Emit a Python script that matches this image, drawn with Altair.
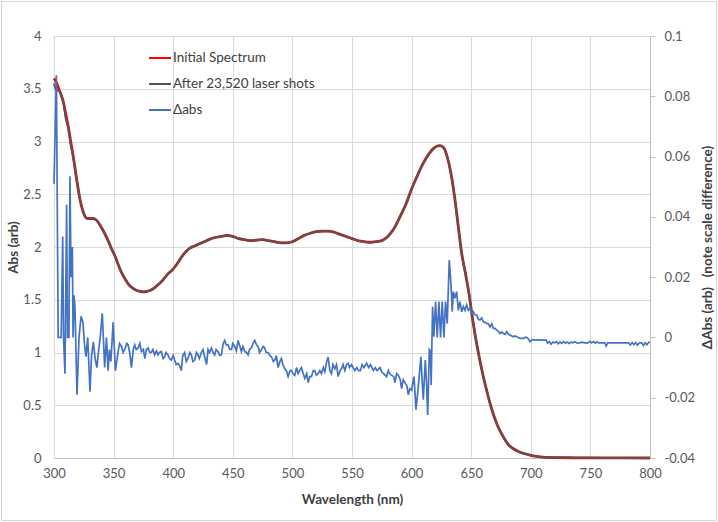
import altair as alt
import pandas as pd

# ---- absorbance spectra (left axis) ----
spec_nm = [300, 302, 304, 306, 308, 310, 312, 314, 316, 318,
           320, 322, 324, 326, 328, 330, 333, 336, 339, 342,
           345, 348, 351, 354, 357, 360, 363, 366, 369, 372,
           375, 378, 381, 384, 387, 390, 393, 396, 399, 402,
           405, 408, 411, 414, 418, 422, 426, 430, 435, 440,
           445, 450, 455, 460, 465, 470, 475, 480, 485, 490,
           495, 500, 505, 510, 515, 520, 525, 530, 535, 540,
           545, 550, 555, 560, 565, 570, 575, 580, 585, 590,
           595, 600, 605, 610, 615, 618, 621, 624, 627, 630,
           633, 636, 639, 642, 645, 648, 651, 654, 657, 660,
           663, 666, 669, 672, 675, 678, 681, 685, 690, 695,
           700, 705, 710, 720, 740, 760, 800]

initial_abs = [3.60, 3.56, 3.50, 3.44, 3.37, 3.25, 3.14, 3.00, 2.87, 2.72,
               2.57, 2.44, 2.35, 2.29, 2.27, 2.27, 2.27, 2.25, 2.20, 2.14,
               2.07, 1.99, 1.92, 1.83, 1.75, 1.69, 1.64, 1.61, 1.59, 1.58,
               1.575, 1.58, 1.59, 1.61, 1.64, 1.67, 1.71, 1.75, 1.78, 1.82,
               1.87, 1.92, 1.96, 1.99, 2.01, 2.03, 2.05, 2.07, 2.09, 2.10,
               2.11, 2.10, 2.08, 2.07, 2.06, 2.065, 2.07, 2.06, 2.05, 2.04,
               2.04, 2.05, 2.08, 2.11, 2.13, 2.145, 2.15, 2.15, 2.14, 2.12,
               2.10, 2.08, 2.06, 2.05, 2.045, 2.05, 2.06, 2.10, 2.17, 2.28,
               2.40, 2.55, 2.68, 2.80, 2.89, 2.93, 2.955, 2.96, 2.94, 2.85,
               2.70, 2.48, 2.21, 1.94, 1.76, 1.57, 1.33, 1.12, 0.94, 0.78,
               0.64, 0.51, 0.40, 0.31, 0.24, 0.18, 0.13, 0.09, 0.06, 0.04,
               0.025, 0.015, 0.008, 0.004, 0.002, 0.001, 0.0]

after_abs = [3.55, 3.48, 3.49, 3.44, 3.36, 3.21, 3.13, 2.97, 2.86, 2.71,
             2.57, 2.44, 2.35, 2.29, 2.27, 2.27, 2.27, 2.25, 2.20, 2.14,
             2.07, 1.99, 1.92, 1.83, 1.75, 1.69, 1.64, 1.61, 1.59, 1.58,
             1.575, 1.58, 1.59, 1.61, 1.64, 1.67, 1.71, 1.75, 1.78, 1.82,
             1.87, 1.92, 1.96, 1.99, 2.01, 2.03, 2.05, 2.07, 2.09, 2.10,
             2.11, 2.10, 2.08, 2.07, 2.06, 2.065, 2.07, 2.06, 2.05, 2.04,
             2.04, 2.05, 2.08, 2.11, 2.13, 2.145, 2.15, 2.15, 2.14, 2.12,
             2.10, 2.08, 2.06, 2.05, 2.045, 2.05, 2.06, 2.10, 2.17, 2.28,
             2.40, 2.55, 2.68, 2.80, 2.89, 2.93, 2.955, 2.96, 2.94, 2.85,
             2.70, 2.48, 2.21, 1.94, 1.76, 1.57, 1.33, 1.12, 0.94, 0.78,
             0.64, 0.51, 0.40, 0.31, 0.24, 0.18, 0.13, 0.09, 0.06, 0.04,
             0.025, 0.015, 0.008, 0.004, 0.002, 0.001, 0.0]

# ---- difference spectrum (right axis), in units of 1e-3 ----
delta_nm = [300, 302, 303.5, 306, 307.3, 308, 309.2, 310.6, 311.3, 312.5,
            313.4, 314.3, 315.4, 316, 316.8, 317.6, 319.3, 321, 322.7, 324.3,
            325.5, 326.8, 328.3, 330.2, 331.5, 333, 334.5, 336, 337.5, 338.8,
            340.5, 342.5, 344, 345.4, 346.5, 347.7, 349.6, 351.5, 353.8, 355,
            356.6, 358, 359.4, 361, 362.2, 363.5, 365, 366.5, 367.7, 369,
            370.6, 372, 373.4, 375, 376.2, 377.5, 379, 380.3, 381.6, 383,
            384.4, 386, 387.2, 388.5, 390, 391.5, 392.8, 394, 395.6, 397,
            398.4, 400, 401.2, 402.5, 404, 405.5, 406.8, 408, 409.6, 411,
            412.4, 414, 415.2, 416.5, 418, 419.5, 420.8, 422, 423.6, 425,
            426.4, 428, 429.2, 430.5, 432, 433.5, 434.8, 436, 437.6, 439,
            440.4, 442, 443.2, 444.5, 446, 447.5, 448.9, 450, 451.6, 453,
            454.4, 456, 457.2, 458.5, 460, 461.5, 462.8, 464, 465.6, 467,
            468.4, 470, 471.2, 472.5, 474, 475.5, 476.8, 478, 479.6, 481,
            482.4, 484, 485.2, 486.5, 488, 489.5, 490.8, 492, 493.6, 495,
            496.4, 498, 499.2, 500.5, 502, 503.5, 504.8, 506, 507.6, 509,
            510.4, 512, 513.2, 514.5, 516, 517.5, 518.8, 520, 521.6, 523,
            524.4, 526, 527.2, 528.8, 530, 531.4, 532.8, 534, 535.6, 537,
            538.4, 540, 541.2, 542.5, 544, 545.5, 546.8, 548, 549.6, 551,
            552.3, 554, 555.5, 557, 558.5, 560, 562.3, 564, 565.5, 567.9,
            569.5, 571, 573.5, 575, 576.5, 579, 580.5, 581.5, 583.3, 585,
            586, 587.5, 589, 590.5, 591.6, 593, 594.4, 596, 597.2, 598.5,
            600, 601, 602, 603.7, 605.6, 607, 607.8, 608.8, 609.8, 611.5,
            612.5, 613.5, 614.9, 615.8, 616.4, 617.6, 618.7, 620.1, 621.5, 622.9,
            624.3, 625.7, 627.1, 628.5, 629.9, 631.6, 633, 634.1, 635, 636.4,
            637.8, 639.2, 640.6, 642, 643.4, 644.8, 646.2, 647.6, 649, 650.4,
            651.8, 653.2, 654.6, 656, 657.4, 658.8, 660.2, 661.6, 663, 664.4,
            665.8, 667.2, 668.6, 670, 671.4, 672.8, 674.2, 675.6, 677, 678.4,
            679.8, 681.2, 682.6, 684, 685.4, 686.8, 688.2, 689.6, 691, 692.4,
            693.8, 695.2, 696.6, 698, 699.4, 701, 702, 713, 714, 715.5,
            717, 718.5, 720, 721.5, 723, 724.5, 726, 727.5, 729, 730.5,
            732, 733.5, 735, 737, 739, 741, 743, 745, 748, 749.7,
            751, 752.5, 754, 755.5, 757, 760, 762, 763.2, 764.5, 770,
            776, 782, 783.5, 785, 786.5, 788, 789.5, 791, 793, 794.5,
            796, 797.5, 799, 800]

delta_milli = [51, 87, 0, 0, 33.5, 0, -12, 44, 0, 0,
               53.5, 20, 30, 0, 14, 10, -19, 0, 7, 5,
               -2, -6.4, 0, -18, -6, -1.5, -7, -10, -4, 0,
               8, -10, 0, -11, -4, -8, 5, -11, -4.7, -2,
               -3, -5, -4, -2, -2.5, -5, -10, -4, -2.5, -4,
               -3.5, -2, -4.7, -4, -7, -4, -3.5, -5, -5, -4,
               -5.8, -4.5, -5.8, -5, -4.7, -7, -6.4, -5, -5.8, -7,
               -7.5, -6, -7.5, -9, -8.6, -9.5, -11, -6, -5, -8,
               -7, -5, -5.8, -8, -7.5, -5, -5.8, -7, -5, -4,
               -6.4, -9, -4, -5, -3.5, -5, -5.8, -4, -4.7, -6,
               -5.8, -2, -1, -2.5, -2.5, -4, -4, -2, -3, -4.5,
               -1, -3, -4.7, -3, -4.7, -5, -5.8, -4, -3.5, -2,
               -1, -2.5, -3, -5, -4, -3, -3.5, -5, -5, -6,
               -6.4, -8, -7.5, -6, -10, -8, -7, -9, -10.4, -11,
               -13, -11, -11, -12, -12.6, -10, -12, -11, -10, -12,
               -13.6, -12, -15, -13, -13, -11, -11, -12.5, -12, -11,
               -12, -10, -11.4, -8, -6.5, -11, -12, -9, -10.4, -9,
               -13, -11, -10.4, -9, -11, -9, -8.6, -10, -9, -10,
               -11, -10, -11, -11, -9, -10, -8.6, -10, -9, -11,
               -10, -11, -10, -11.5, -12, -13, -11, -12, -12.6, -13,
               -15, -12, -12.6, -14, -17, -14, -15, -16, -19, -17,
               -17.5, -15, -13, -24, -16.4, -10, -6.4, -14, -20.7, -7.5,
               -15, -25.7, -4, -4.5, -15.8, 10.2, 0.2, 11.9, 0, 11.9,
               0, 11.9, 0, 11.9, 4.6, 25.7, 18, 8.5, 15.2, 13,
               15.2, 9, 11.9, 8.5, 10.2, 9, 10.8, 9, 9.6, 8,
               8.5, 7.5, 7.4, 6, 5.8, 6.5, 5.2, 5, 4.6, 4.5,
               3.5, 4.5, 3, 3, 2.4, 2, 1.3, 1.8, 1.3, 1,
               1.9, 1, 0.8, 0.5, 0.2, 0.5, 0.2, 0, -0.3, -0.3,
               -0.3, 0, 0, -0.5, -1.4, -0.8, -0.8, -0.9, -1.9, -1.4,
               -2.2, -1.5, -1.8, -1.4, -2.1, -1.5, -2, -1.4, -1.9, -1.5,
               -2, -1.6, -1.8, -1.4, -1.9, -1.8, -1.6, -1.8, -1.8, -1.3,
               -1.8, -1.4, -1.9, -1.5, -1.8, -1.8, -1.7, -2.9, -1.8, -1.8,
               -1.8, -1.8, -2.5, -1.7, -2.4, -1.7, -2.6, -1.8, -1.8, -2.7,
               -1.8, -2.4, -1.6, -1.5]

SERIES = ["Initial Spectrum", "After 23,520 laser shots", "\u0394abs"]
COLORS = ["#ff0000", "#555555", "#4472c4"]

FONT = "Lato"
GRID = "#d9d9d9"
W, H = 596, 422

init_df = pd.DataFrame({"nm": spec_nm, "abs": initial_abs, "series": SERIES[0]})
after_df = pd.DataFrame({"nm": spec_nm, "abs": after_abs, "series": SERIES[1]})
delta_df = pd.DataFrame({"nm": delta_nm,
                         "dabs": [v / 1000 for v in delta_milli],
                         "series": SERIES[2]})

legend = alt.Legend(
    title=None, orient="none", legendX=94, legendY=10,
    symbolType="stroke", symbolSize=484, symbolStrokeWidth=2,
    labelFont=FONT, labelFontSize=13.5, labelColor="#404040",
    rowPadding=7, labelOffset=1,
)
color = alt.Color("series:N", sort=SERIES,
                  scale=alt.Scale(domain=SERIES, range=COLORS), legend=legend)

x = alt.X(
    "nm:Q",
    scale=alt.Scale(domain=[300, 800], nice=False, zero=False, padding=0),
    axis=alt.Axis(
        values=list(range(300, 801, 50)), title="Wavelength (nm)",
        grid=True, gridColor=GRID, ticks=False, domainColor="#bfbfbf",
        labelFlush=False, labelPadding=9,
        titleX=W / 2, titleY=41, titleBaseline="middle",
    ),
)

y_left = alt.Y(
    "abs:Q",
    scale=alt.Scale(domain=[0, 4], nice=False, padding=0),
    axis=alt.Axis(
        values=[0, 0.5, 1, 1.5, 2, 2.5, 3, 3.5, 4],
        labelExpr="'' + datum.value",
        title="Abs (arb)", titleAngle=270, titleX=-41, titleY=H / 2,
        titleAlign="center", titleBaseline="middle",
        grid=True, gridColor=GRID, ticks=False, domain=False, labelPadding=13,
    ),
)

y_right = alt.Y(
    "dabs:Q",
    scale=alt.Scale(domain=[-0.04, 0.1], nice=False, padding=0),
    axis=alt.Axis(
        orient="right",
        values=[-0.04, -0.02, 0, 0.02, 0.04, 0.06, 0.08, 0.1],
        labelExpr="'' + round(datum.value * 100) / 100",
        title="\u0394Abs (arb) \u00a0 (note scale difference)",
        titleAngle=270, titleX=57, titleY=H / 2,
        titleAlign="center", titleBaseline="middle",
        grid=False, tickSize=5, tickColor="#bfbfbf", domainColor="#bfbfbf",
        labelPadding=9,
    ),
)

# outer chart frame
frame = alt.Chart(pd.DataFrame({"k": [0]})).mark_rect(
    fillOpacity=0, stroke="#d4d4d4", strokeWidth=1
).encode(
    x=alt.value(-52.5), x2=alt.value(W + 66.5),
    y=alt.value(-34.5), y2=alt.value(H + 62.5),
)

initial = alt.Chart(init_df).mark_line(strokeWidth=2.8, interpolate="monotone").encode(
    x=x, y=y_left, color=color)
after = alt.Chart(after_df).mark_line(strokeWidth=2.0, interpolate="monotone").encode(
    x=x, y=y_left, color=color)
spectra = alt.layer(frame, initial, after)

delta = alt.Chart(delta_df).mark_line(strokeWidth=1.7).encode(
    x=x, y=y_right, color=color)

chart = alt.layer(spectra, delta).resolve_scale(y="independent").properties(
    width=W, height=H,
    autosize=alt.AutoSizeParams(type="none"),
    padding={"left": 54, "top": 36, "right": 68, "bottom": 64},
    background="white",
).configure_view(stroke=None).configure_axis(
    labelFont=FONT, titleFont=FONT, labelFontSize=13, titleFontSize=13.5,
    labelColor="#595959", titleColor="#404040", titleFontWeight="bold",
)

chart.save("out.html", embed_options={"renderer": "svg", "actions": False})
